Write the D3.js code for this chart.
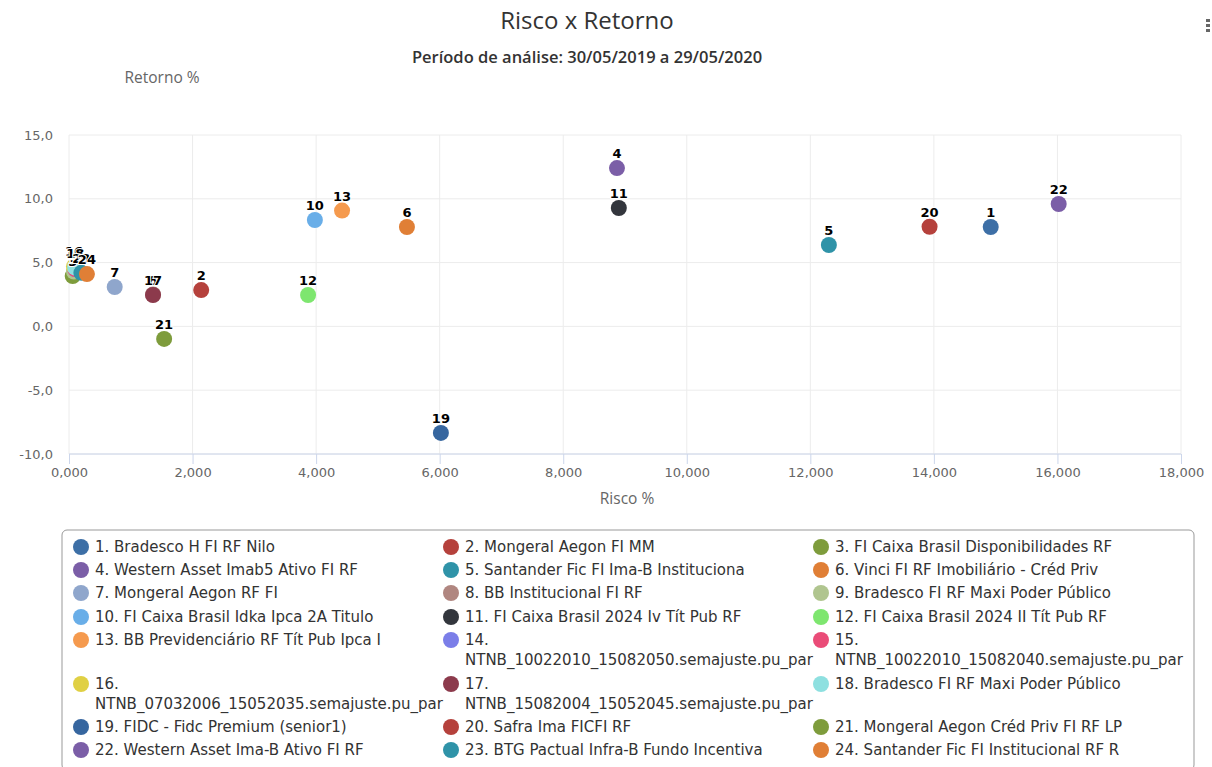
<!DOCTYPE html>
<html>
<head>
<meta charset="utf-8">
<script src="https://cdn.jsdelivr.net/npm/d3@7"></script>
<style>
body { margin: 0; background: #fff; }
svg { font-family: "DejaVu Sans", sans-serif; }
</style>
</head>
<body>
<svg id="chart"></svg>
<script>
var screen = {width: 1212, height: 767};
var margins = {top: 135, right: 31, bottom: 313, left: 69};

// fund names (legend order)
var names = [
    "Bradesco H FI RF Nilo", "Mongeral Aegon FI MM", "FI Caixa Brasil Disponibilidades RF",
    "Western Asset Imab5 Ativo FI RF", "Santander Fic FI Ima-B Instituciona", "Vinci FI RF Imobiliário - Créd Priv",
    "Mongeral Aegon RF FI", "BB Institucional FI RF", "Bradesco FI RF Maxi Poder Público",
    "FI Caixa Brasil Idka Ipca 2A Titulo", "FI Caixa Brasil 2024 Iv Tít Pub RF", "FI Caixa Brasil 2024 II Tít Pub RF",
    "BB Previdenciário RF Tít Pub Ipca I", "NTNB_10022010_15082050.semajuste.pu_par", "NTNB_10022010_15082040.semajuste.pu_par",
    "NTNB_07032006_15052035.semajuste.pu_par", "NTNB_15082004_15052045.semajuste.pu_par", "Bradesco FI RF Maxi Poder Público",
    "FIDC - Fidc Premium (senior1)", "Safra Ima FICFI RF", "Mongeral Aegon Créd Priv FI RF LP",
    "Western Asset Ima-B Ativo FI RF", "BTG Pactual Infra-B Fundo Incentiva", "Santander Fic FI Institucional RF R"
];
// Risco % (x), in thousands as shown on the axis
var risco = [14.92, 2.14, 0.06, 8.87, 12.30, 5.47, 0.74, 1.36, 0.08, 3.98, 8.90, 3.87,
             4.42, 0.10, 0.10, 0.08, 1.36, 0.10, 6.02, 13.93, 1.54, 16.02, 0.20, 0.29];
// Retorno % (y)
var retorno = [7.79, 2.85, 3.95, 12.41, 6.38, 7.79, 3.09, 2.50, 4.30, 8.34, 9.28, 2.46,
               9.08, 4.50, 4.50, 4.70, 2.46, 4.60, -8.35, 7.81, -0.98, 9.59, 4.20, 4.10];
var colors = ["#3d6fa6", "#b5413c", "#7e9c3c", "#7b5ea7", "#2f93a8", "#e07f36",
              "#8fa6cc", "#b08680", "#b0c58f", "#69aee8", "#33363d", "#7ee66f",
              "#f59a4e", "#7b7ee8", "#ea4c78", "#e0d044", "#8c3a4c", "#8ee0e0",
              "#36669f", "#b5413c", "#7e9c3c", "#7b5ea7", "#2f93a8", "#e07f36"];
var xTicks = [0, 2, 4, 6, 8, 10, 12, 14, 16, 18];
var yTicks = [-10, -5, 0, 5, 10, 15];

var data = names.map(function(n, i) {
    return {id: i + 1, name: n, x: risco[i], y: retorno[i], color: colors[i]};
});

var svg = d3.select("#chart")
    .attr("width", screen.width)
    .attr("height", screen.height);

var width = screen.width - margins.left - margins.right;
var height = screen.height - margins.top - margins.bottom;

var xScale = d3.scaleLinear().domain([0, 18]).range([0, width]);
var yScale = d3.scaleLinear().domain([-10, 15]).range([height, 0]);

// titles
svg.append("text")
    .attr("x", 587).attr("y", 29)
    .attr("text-anchor", "middle")
    .style("font-family", "'Open Sans', sans-serif")
    .style("font-size", "24px")
    .style("fill", "#333")
    .text("Risco x Retorno");
svg.append("text")
    .attr("x", 587).attr("y", 63)
    .attr("text-anchor", "middle")
    .style("font-family", "'Open Sans', sans-serif")
    .style("font-size", "16.5px")
    .style("font-weight", "600")
    .style("fill", "#333")
    .text("Período de análise: 30/05/2019 a 29/05/2020");
svg.append("text")
    .attr("x", 162).attr("y", 83)
    .attr("text-anchor", "middle")
    .style("font-family", "'Open Sans', sans-serif")
    .style("font-size", "15.5px")
    .style("fill", "#666")
    .text("Retorno %");

// menu dots
svg.append("g").selectAll("rect")
    .data([0, 1, 2]).enter().append("rect")
    .attr("x", 1206).attr("y", function(d) { return 19 + d * 5; })
    .attr("width", 4).attr("height", 3)
    .style("fill", "#666");

var g = svg.append("g")
    .attr("transform", "translate(" + margins.left + "," + margins.top + ")");

// grid
g.append("g").selectAll("line")
    .data(xTicks).enter().append("line")
    .attr("x1", function(d) { return xScale(d); })
    .attr("x2", function(d) { return xScale(d); })
    .attr("y1", 0).attr("y2", height)
    .style("stroke", "#ececec");
g.append("g").selectAll("line")
    .data(yTicks).enter().append("line")
    .attr("x1", 0).attr("x2", width)
    .attr("y1", function(d) { return yScale(d); })
    .attr("y2", function(d) { return yScale(d); })
    .style("stroke", "#ececec");

var fmtX = function(d) { return d3.format(".3f")(d).replace(".", ","); };
var fmtY = function(d) { return d3.format(".1f")(d).replace(".", ",").replace("\u2212", "-"); };

var xAxis = d3.axisBottom(xScale).tickValues(xTicks).tickFormat(fmtX).tickSize(10).tickPadding(4);
var yAxis = d3.axisLeft(yScale).tickValues(yTicks).tickFormat(fmtY).tickSize(0).tickPadding(16);

g.append("g")
    .attr("transform", "translate(0," + height + ")")
    .call(xAxis)
    .call(function(s) {
        s.select(".domain").attr("d", "M0,0H" + width).style("stroke", "#ccd6eb");
        s.selectAll(".tick line").style("stroke", "#ccd6eb");
    });
g.append("g")
    .call(yAxis)
    .call(function(s) { s.select(".domain").remove(); });
g.selectAll(".tick text")
    .style("font-family", "'DejaVu Sans', sans-serif")
    .style("font-size", "13px")
    .style("fill", "#666");

svg.append("text")
    .attr("x", 627).attr("y", 504)
    .attr("text-anchor", "middle")
    .style("font-family", "'Open Sans', sans-serif")
    .style("font-size", "15.5px")
    .style("fill", "#666")
    .text("Risco %");

// points
g.append("g").selectAll("circle")
    .data(data).enter().append("circle")
    .attr("cx", function(d) { return xScale(d.x); })
    .attr("cy", function(d) { return yScale(d.y); })
    .attr("r", 8)
    .style("fill", function(d) { return d.color; });

// data labels
g.append("g").selectAll("text")
    .data(data).enter().append("text")
    .attr("x", function(d) { return xScale(d.x); })
    .attr("y", function(d) { return yScale(d.y) - 10; })
    .attr("text-anchor", "middle")
    .style("font-size", "13px")
    .style("font-weight", "bold")
    .style("fill", "#000")
    .style("stroke", "#fff")
    .style("stroke-width", 2)
    .style("paint-order", "stroke")
    .text(function(d) { return d.id; });

// legend
svg.append("rect")
    .attr("x", 62).attr("y", 530)
    .attr("width", 1132).attr("height", 240)
    .attr("rx", 5)
    .style("fill", "none")
    .style("stroke", "#999");

var rowY = [547, 570, 593, 617, 640, 684, 727, 750];
var legend = svg.append("g").selectAll("g")
    .data(data).enter().append("g")
    .attr("transform", function(d, i) {
        return "translate(" + (81 + (i % 3) * 370) + "," + rowY[Math.floor(i / 3)] + ")";
    });
legend.append("circle")
    .attr("r", 8)
    .style("fill", function(d) { return d.color; });
legend.append("text")
    .attr("x", 14)
    .attr("y", 5)
    .style("font-size", "15px")
    .style("fill", "#333")
    .each(function(d) {
        var t = d3.select(this);
        if (d.name.indexOf("NTNB") == 0) {
            t.append("tspan").attr("x", 14).text(d.id + ".");
            t.append("tspan").attr("x", 14).attr("dy", 20).text(d.name);
        } else {
            t.text(d.id + ". " + d.name);
        }
    });
</script>
</body>
</html>
